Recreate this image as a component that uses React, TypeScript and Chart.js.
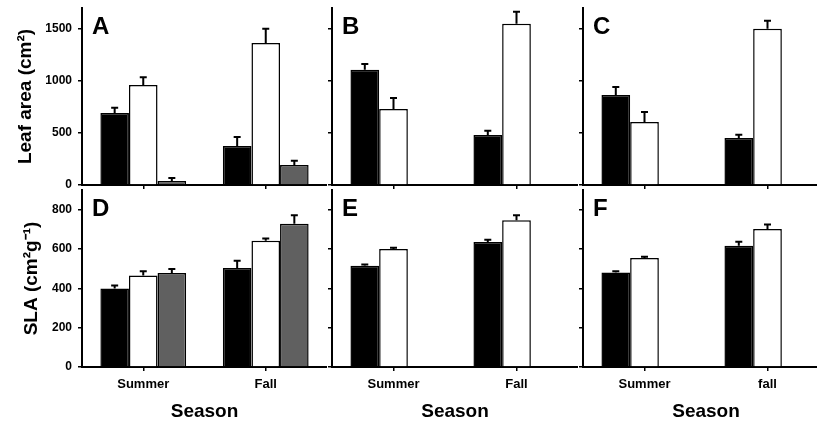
import React, { useEffect, useRef } from 'react';
import { Chart, registerables } from 'chart.js';

Chart.register(...registerables);

const FONT = "'Liberation Sans', Arial, Helvetica, sans-serif";

// Categories
const seasons = ['Summer', 'Fall'];
const seasonsF = ['Summer', 'fall'];

// Y tick values
const leafTicks = [0, 500, 1000, 1500];
const slaTicks = [0, 200, 400, 600, 800];

// Leaf area (cm²) — panels A, B, C
const aBlack = [692, 375];
const aBlackErr = [50, 85];
const aWhite = [961, 1365];
const aWhiteErr = [75, 135];
const aGray = [38, 192];
const aGrayErr = [30, 40];

const bBlack = [1106, 481];
const bBlackErr = [57, 40];
const bWhite = [731, 1548];
const bWhiteErr = [105, 115];

const cBlack = [865, 452];
const cBlackErr = [77, 30];
const cWhite = [606, 1500];
const cWhiteErr = [95, 77];

// SLA (cm² g⁻¹) — panels D, E, F
const dBlack = [399, 504];
const dBlackErr = [15, 36];
const dWhite = [465, 642];
const dWhiteErr = [22, 12];
const dGray = [478, 729];
const dGrayErr = [20, 42];

const eBlack = [515, 635];
const eBlackErr = [6, 12];
const eWhite = [600, 746];
const eWhiteErr = [6, 25];

const fBlack = [481, 617];
const fBlackErr = [6, 20];
const fWhite = [554, 702];
const fWhiteErr = [6, 22];

const emptyPair: (number | null)[] = [null, null];

const leafMax = 1700;
const slaMax = 900;

const errorBarsPlugin = {
  id: 'errorBars',
  afterDatasetsDraw(chart: any) {
    const ctx = chart.ctx;
    const yScale = chart.scales.y;
    ctx.save();
    ctx.strokeStyle = '#000';
    ctx.lineWidth = 2;
    chart.data.datasets.forEach((ds: any, i: number) => {
      const meta = chart.getDatasetMeta(i);
      if (!ds.errors) return;
      meta.data.forEach((el: any, j: number) => {
        const v = ds.data[j];
        const e = ds.errors[j];
        if (v == null || e == null) return;
        const x = el.x;
        const yTop = el.y;
        const yErr = yScale.getPixelForValue(v + e);
        ctx.beginPath();
        ctx.moveTo(x, yTop);
        ctx.lineTo(x, yErr);
        ctx.moveTo(x - 3.5, yErr);
        ctx.lineTo(x + 3.5, yErr);
        ctx.stroke();
      });
    });
    ctx.restore();
  },
};

const letterPlugin = {
  id: 'panelLetter',
  afterDraw(chart: any, _args: any, opts: any) {
    const { ctx, chartArea } = chart;
    ctx.save();
    ctx.fillStyle = '#000';
    ctx.font = `bold 24px ${FONT}`;
    ctx.textAlign = 'left';
    ctx.textBaseline = 'alphabetic';
    ctx.fillText(opts.letter || '', chartArea.left + 10, chartArea.top + 26);
    ctx.restore();
  },
};

type PanelProps = {
  letter: string;
  labels: string[];
  black: number[];
  blackErr: number[];
  white: number[];
  whiteErr: number[];
  gray: (number | null)[];
  grayErr: (number | null)[];
  yMax: number;
  yTicks: number[];
  yTitle: string;
  titlePad: number;
  showY: boolean;
  showX: boolean;
  left: number;
  top: number;
  width: number;
  height: number;
  xH: number;
};

function Panel(p: PanelProps) {
  const ref = useRef<HTMLCanvasElement | null>(null);
  useEffect(() => {
    if (!ref.current) return;
    const chart = new Chart(ref.current, {
      type: 'bar',
      data: {
        labels: p.labels,
        datasets: [
          {
            data: p.black,
            errors: p.blackErr,
            backgroundColor: '#000',
            borderColor: '#000',
            borderWidth: 1.5,
          } as any,
          {
            data: p.white,
            errors: p.whiteErr,
            backgroundColor: '#fff',
            borderColor: '#000',
            borderWidth: 1.5,
          } as any,
          {
            data: p.gray,
            errors: p.grayErr,
            backgroundColor: '#606060',
            borderColor: '#000',
            borderWidth: 1.5,
          } as any,
        ],
      },
      options: {
        responsive: false,
        animation: false,
        devicePixelRatio: 1,
        events: [],
        layout: { padding: { top: 8, left: 0, right: 0, bottom: 0 } },
        datasets: { bar: { categoryPercentage: 0.7, barPercentage: 1.0 } },
        plugins: {
          legend: { display: false },
          tooltip: { enabled: false },
          panelLetter: { letter: p.letter },
        } as any,
        scales: {
          x: {
            type: 'category',
            offset: true,
            grid: {
              display: true,
              offset: false,
              drawOnChartArea: false,
              drawTicks: true,
              tickLength: 4,
              color: '#000',
              lineWidth: 1.5,
            },
            border: { display: true, color: '#000', width: 2 },
            ticks: {
              display: p.showX,
              color: '#000',
              font: { family: FONT, size: 13, weight: 'bold' },
              padding: 6,
              maxRotation: 0,
              autoSkip: false,
            },
            title: {
              display: p.showX,
              text: 'Season',
              color: '#000',
              font: { family: FONT, size: 19, weight: 'bold' },
              padding: { top: 0, bottom: 0 },
            },
            afterFit: (s: any) => {
              s.height = p.xH;
              s.paddingLeft = 0;
              s.paddingRight = 0;
            },
          },
          y: {
            min: 0,
            max: p.yMax,
            grid: {
              drawOnChartArea: false,
              drawTicks: true,
              tickLength: 4,
              color: '#000',
              lineWidth: 1.5,
            },
            border: { display: true, color: '#000', width: 2 },
            afterBuildTicks: (s: any) => {
              s.ticks = p.yTicks.map((v) => ({ value: v }));
            },
            ticks: {
              display: p.showY,
              color: '#000',
              font: { family: FONT, size: 12, weight: 'bold' },
              padding: 6,
              callback: (v: any) => String(v),
            },
            title: {
              display: !!p.yTitle,
              text: p.yTitle,
              color: '#000',
              font: { family: FONT, size: 19, weight: 'bold' },
              padding: { top: p.titlePad, bottom: 0 },
            },
            afterFit: (s: any) => {
              s.width = 82;
              s.paddingTop = 0;
              s.paddingBottom = 0;
            },
          },
        },
      } as any,
      plugins: [errorBarsPlugin, letterPlugin],
    });
    return () => chart.destroy();
  }, []);
  return (
    <canvas
      ref={ref}
      width={p.width}
      height={p.height}
      style={{ position: 'absolute', left: p.left, top: p.top, width: p.width, height: p.height }}
    />
  );
}

export default function App() {
  const topH = 195;
  const botTop = 182;
  const botH = 241;
  return (
    <div
      style={{
        position: 'fixed',
        left: 0,
        top: 0,
        width: 817,
        height: 423,
        overflow: 'hidden',
        background: '#fff',
      }}
    >
      <Panel letter="A" labels={seasons} black={aBlack} blackErr={aBlackErr} white={aWhite} whiteErr={aWhiteErr}
        gray={aGray} grayErr={aGrayErr} yMax={leafMax} yTicks={leafTicks} yTitle="Leaf area (cm²)" titlePad={14}
        showY={true} showX={false} left={0} top={0} width={327} height={topH} xH={10} />
      <Panel letter="B" labels={seasons} black={bBlack} blackErr={bBlackErr} white={bWhite} whiteErr={bWhiteErr}
        gray={emptyPair} grayErr={emptyPair} yMax={leafMax} yTicks={leafTicks} yTitle="" titlePad={0}
        showY={false} showX={false} left={250} top={0} width={328} height={topH} xH={10} />
      <Panel letter="C" labels={seasons} black={cBlack} blackErr={cBlackErr} white={cWhite} whiteErr={cWhiteErr}
        gray={emptyPair} grayErr={emptyPair} yMax={leafMax} yTicks={leafTicks} yTitle="" titlePad={0}
        showY={false} showX={false} left={501} top={0} width={328} height={topH} xH={10} />
      <Panel letter="D" labels={seasons} black={dBlack} blackErr={dBlackErr} white={dWhite} whiteErr={dWhiteErr}
        gray={dGray} grayErr={dGrayErr} yMax={slaMax} yTicks={slaTicks} yTitle="SLA (cm²g⁻¹)" titlePad={20}
        showY={true} showX={true} left={0} top={botTop} width={327} height={botH} xH={56} />
      <Panel letter="E" labels={seasons} black={eBlack} blackErr={eBlackErr} white={eWhite} whiteErr={eWhiteErr}
        gray={emptyPair} grayErr={emptyPair} yMax={slaMax} yTicks={slaTicks} yTitle="" titlePad={0}
        showY={false} showX={true} left={250} top={botTop} width={328} height={botH} xH={56} />
      <Panel letter="F" labels={seasonsF} black={fBlack} blackErr={fBlackErr} white={fWhite} whiteErr={fWhiteErr}
        gray={emptyPair} grayErr={emptyPair} yMax={slaMax} yTicks={slaTicks} yTitle="" titlePad={0}
        showY={false} showX={true} left={501} top={botTop} width={328} height={botH} xH={56} />
    </div>
  );
}
